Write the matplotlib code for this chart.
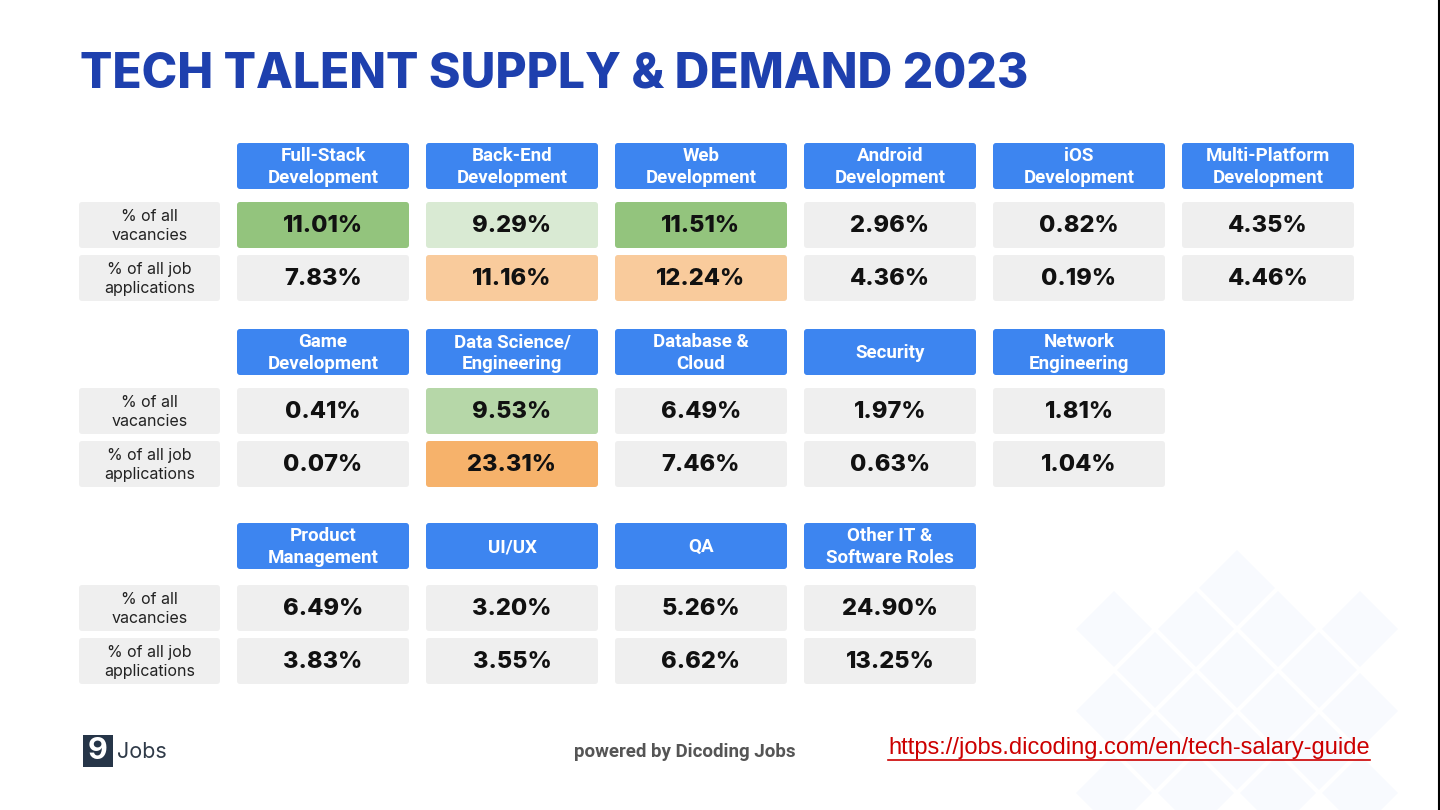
import matplotlib
matplotlib.use("Agg")
import matplotlib.pyplot as plt
from matplotlib.patches import FancyBboxPatch, Polygon, Rectangle

# ---------------- data ----------------
title = "TECH TALENT SUPPLY & DEMAND 2023"
categories = [
    "Full-Stack\nDevelopment", "Back-End\nDevelopment", "Web\nDevelopment",
    "Android\nDevelopment", "iOS\nDevelopment", "Multi-Platform\nDevelopment",
    "Game\nDevelopment", "Data Science/\nEngineering", "Database &\nCloud",
    "Security", "Network\nEngineering",
    "Product\nManagement", "UI/UX", "QA", "Other IT &\nSoftware Roles",
]
group_sizes = [6, 5, 4]
vacancies = [11.01, 9.29, 11.51, 2.96, 0.82, 4.35,
             0.41, 9.53, 6.49, 1.97, 1.81,
             6.49, 3.20, 5.26, 24.90]
applications = [7.83, 11.16, 12.24, 4.36, 0.19, 4.46,
                0.07, 23.31, 7.46, 0.63, 1.04,
                3.83, 3.55, 6.62, 13.25]
# highlight levels: 0 = none, 1 = light, 2 = medium, 3 = strong
vac_level = [3, 1, 3, 0, 0, 0,
             0, 2, 0, 0, 0,
             0, 0, 0, 0]
app_level = [0, 1, 1, 0, 0, 0,
             0, 2, 0, 0, 0,
             0, 0, 0, 0]
row_labels = ["% of all\nvacancies", "% of all job\napplications"]

# ---------------- styles ----------------
W, H = 1440, 810
fig = plt.figure(figsize=(W / 100, H / 100), dpi=100)
ax = fig.add_axes([0, 0, 1, 1])
ax.set_xlim(0, W)
ax.set_ylim(H, 0)
ax.axis("off")
fig.patch.set_facecolor("white")

HEADER_BLUE = "#3d85f0"
GRAY = "#efefef"
greens = {0: GRAY, 1: "#d9ead3", 2: "#b6d7a8", 3: "#93c47d"}
oranges = {0: GRAY, 1: "#f9cb9c", 2: "#f6b26b", 3: "#f6b26b"}

# background diamond pattern (decorative, very faint)
hd = 38
for yc in range(588, 811, 41):
    k = (yc - 588) // 41
    for xc in range(1237 - 41 * 8, 1237 + 41 * 8 + 1, 41):
        if ((xc - 1237) // 41 + k) % 2:
            continue
        if abs(xc - 1237) > (yc - 588) * 3 or xc < 1110 or xc > 1362:
            continue
        ax.add_patch(Polygon([(xc, yc - hd), (xc + hd, yc), (xc, yc + hd), (xc - hd, yc)],
                             closed=True, facecolor="#f8fafe", edgecolor="none", zorder=0))


def cell(x, y, w, h, color):
    ax.add_patch(FancyBboxPatch((x + 2, y + 2), w - 4, h - 4,
                                boxstyle="round,pad=2,rounding_size=3",
                                facecolor=color, edgecolor="none", zorder=1))


col_x0, col_w, col_pitch, cell_w = 237, 172, 189, 172
label_x0, label_w = 79, 141
groups_y = [(143, 202, 255), (329, 388, 441), (523, 585, 638)]
hdr_h, row_h = 46, 46

idx = 0
for g, n in enumerate(group_sizes):
    yh, yv, ya = groups_y[g]
    # row labels
    for yy, lab in zip((yv, ya), row_labels):
        cell(label_x0, yy, label_w, row_h, GRAY)
        ax.text(label_x0 + label_w / 2, yy + row_h / 2 + 1, lab, ha="center", va="center",
                fontsize=11.5, family="Inter", color="#222222", linespacing=1.3, zorder=2)
    for j in range(n):
        x = col_x0 + j * col_pitch
        cell(x, yh, cell_w, hdr_h, HEADER_BLUE)
        ax.text(x + cell_w / 2, yh + hdr_h / 2 + 1, categories[idx], ha="center", va="center",
                fontsize=13.5, family="Roboto", weight="bold", color="white",
                linespacing=1.25, zorder=2)
        cell(x, yv, cell_w, row_h, greens[vac_level[idx]])
        ax.text(x + cell_w / 2, yv + row_h / 2 + 1, f"{vacancies[idx]:.2f}%", ha="center",
                va="center", fontsize=17, family="Inter", weight="heavy", color="#111111", zorder=2)
        cell(x, ya, cell_w, row_h, oranges[app_level[idx]])
        ax.text(x + cell_w / 2, ya + row_h / 2 + 1, f"{applications[idx]:.2f}%", ha="center",
                va="center", fontsize=17, family="Inter", weight="heavy", color="#111111", zorder=2)
        idx += 1

# title
ax.text(80, 75, title, ha="left", va="center", fontsize=34.5, family="Inter", weight="heavy",
        color="#1e40ae", zorder=3)

# footer
ax.add_patch(Rectangle((83, 735), 30, 32, facecolor="#263548", edgecolor="none", zorder=2))
ax.text(98, 751, "9", ha="center", va="center", fontsize=22, family="Inter", weight="bold",
        color="white", zorder=3)
ax.text(117, 752, "Jobs", ha="left", va="center", fontsize=15.5, family="Inter",
        color="#2f3a48", zorder=3)
ax.text(685, 752, "powered by Dicoding Jobs", ha="center", va="center", fontsize=13.5,
        family="Roboto", weight="bold", color="#555555", zorder=3)
url = ax.text(1370, 748, "https://jobs.dicoding.com/en/tech-salary-guide", ha="right",
              va="center", fontsize=17, family="Liberation Sans", color="#cc0000", zorder=3)

fig.canvas.draw()
bb = url.get_window_extent()
inv = ax.transData.inverted()
(x0, y0), (x1, y1) = inv.transform([(bb.x0, bb.y0), (bb.x1, bb.y1)])
ax.plot([x0, x1], [760, 760], color="#cc0000", lw=1.2, zorder=3)

# right edge border line
ax.plot([1439, 1439], [0, H], color="black", lw=1.5, zorder=4)

fig.savefig("out.png", dpi=100, facecolor="white")
